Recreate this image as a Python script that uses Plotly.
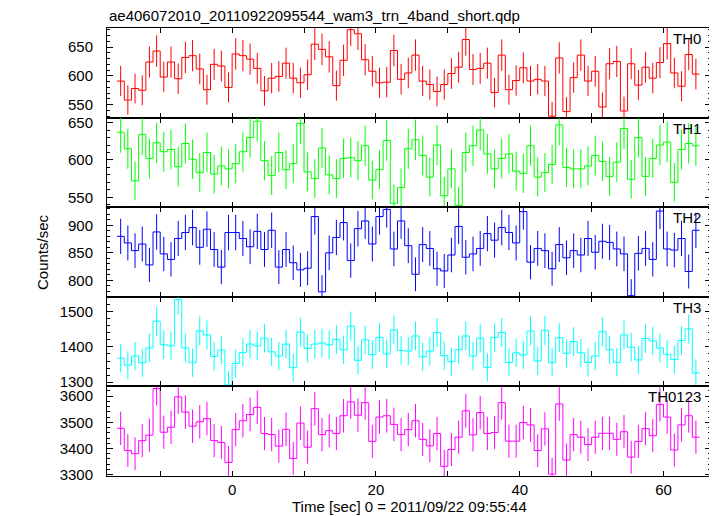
import numpy as np
import plotly.graph_objects as go
from plotly.subplots import make_subplots

# Time bins (1 s wide), bin start edges
bin_start = -16
bin_width = 1

TH0 = [591, 558, 578, 575, 624, 643, 598, 624, 595, 632, 635, 612, 576, 620, 617, 580,
       638, 635, 629, 613, 574, 596, 599, 622, 596, 588, 602, 655, 646, 633, 583, 627,
       680, 673, 628, 608, 588, 589, 644, 594, 605, 636, 591, 585, 573, 585, 604, 615,
       663, 611, 613, 622, 571, 636, 576, 592, 614, 591, 594, 591, 530, 631, 538, 597,
       636, 591, 608, 546, 621, 625, 539, 621, 584, 615, 596, 623, 656, 605, 582, 637, 603]

TH1 = [637, 615, 572, 634, 602, 623, 611, 614, 591, 622, 601, 583, 610, 581, 592, 588,
       595, 611, 630, 652, 599, 579, 610, 587, 595, 649, 584, 575, 616, 580, 575, 602,
       603, 599, 619, 573, 587, 626, 542, 563, 615, 627, 606, 577, 620, 552, 588, 539,
       610, 619, 640, 608, 588, 602, 608, 585, 582, 619, 577, 583, 594, 647, 590, 588,
       588, 592, 606, 598, 578, 597, 642, 574, 630, 578, 602, 620, 624, 570, 614, 622, 619]

TH2 = [880, 868, 854, 866, 828, 888, 848, 838, 876, 887, 896, 860, 893, 856, 824, 887,
       887, 876, 861, 889, 856, 891, 824, 856, 832, 819, 822, 916, 779, 850, 878, 905,
       836, 894, 908, 866, 916, 929, 857, 908, 863, 811, 865, 858, 821, 817, 846, 898,
       842, 848, 858, 885, 873, 896, 887, 868, 925, 833, 858, 854, 821, 865, 841, 854,
       846, 876, 851, 871, 869, 857, 848, 772, 849, 858, 838, 926, 857, 855, 876, 816, 891]

TH3 = [1368, 1348, 1374, 1355, 1397, 1473, 1406, 1403, 1534, 1397, 1355, 1445, 1434, 1373, 1391, 1292,
       1353, 1384, 1408, 1403, 1425, 1386, 1374, 1408, 1341, 1442, 1396, 1408, 1411, 1406, 1421, 1392,
       1459, 1362, 1420, 1378, 1427, 1380, 1448, 1390, 1388, 1431, 1372, 1388, 1441, 1375, 1358, 1392,
       1431, 1374, 1425, 1342, 1427, 1441, 1356, 1383, 1377, 1445, 1360, 1447, 1356, 1426, 1382, 1415,
       1383, 1356, 1374, 1443, 1392, 1356, 1434, 1399, 1363, 1424, 1417, 1397, 1379, 1364, 1418, 1451, 1326]

TH0123 = [3477, 3392, 3380, 3430, 3451, 3629, 3462, 3481, 3597, 3539, 3485, 3502, 3514, 3430, 3423, 3347,
          3472, 3506, 3530, 3557, 3457, 3453, 3409, 3473, 3362, 3497, 3405, 3552, 3453, 3468, 3457, 3525,
          3578, 3527, 3575, 3427, 3520, 3525, 3492, 3453, 3472, 3506, 3435, 3410, 3457, 3332, 3396, 3443,
          3544, 3452, 3537, 3457, 3461, 3575, 3428, 3428, 3499, 3490, 3392, 3475, 3302, 3570, 3356, 3453,
          3443, 3415, 3443, 3458, 3458, 3435, 3464, 3367, 3427, 3476, 3449, 3568, 3520, 3394, 3490, 3525, 3443]

# Poisson-like error scaling
ERR_FACTOR = 1.08

band_names = ["TH0", "TH1", "TH2", "TH3", "TH0123"]
band_values = [TH0, TH1, TH2, TH3, TH0123]
band_colors = ["#ff0000", "#00ff00", "#0000ff", "#00ffff", "#ff00ff"]
y_ranges = [[527.6, 683], [536.7, 656.7], [770, 933], [1288, 1542], [3295, 3637]]
y_dticks = [50, 50, 50, 100, 100]
y_minor = [10, 10, 10, 20, 20]
x_ticks = [0, 20, 40, 60]

title_text = "ae406072010_20110922095544_wam3_trn_4band_short.qdp"
x_title = "Time [sec] 0 = 2011/09/22 09:55:44"
y_title = "Counts/sec"

FONT = "Liberation Sans, Arial, Helvetica, sans-serif"

fig = make_subplots(rows=5, cols=1, shared_xaxes=True, vertical_spacing=0)

for i, (name, vals, col) in enumerate(zip(band_names, band_values, band_colors)):
    row = i + 1
    n = len(vals)
    edges = bin_start + bin_width * np.arange(n + 1)
    centers = bin_start + bin_width * (np.arange(n) + 0.5)
    vals_arr = np.array(vals, dtype=float)
    step_y = np.append(vals_arr, vals_arr[-1])
    fig.add_trace(go.Scatter(x=edges, y=step_y, mode="lines", line_shape="hv",
                             line=dict(color=col, width=1), showlegend=False,
                             hoverinfo="skip"), row=row, col=1)
    fig.add_trace(go.Scatter(x=centers, y=vals_arr, mode="markers",
                             marker=dict(size=0.1, color=col, opacity=0),
                             error_y=dict(type="data", array=ERR_FACTOR * np.sqrt(vals_arr),
                                          width=0, thickness=1, color=col),
                             showlegend=False), row=row, col=1)
    fig.update_yaxes(range=y_ranges[i], dtick=y_dticks[i], tick0=0,
                     ticks="inside", ticklen=6, tickwidth=1, tickcolor="black",
                     minor=dict(dtick=y_minor[i], tick0=0, ticks="inside", ticklen=3,
                                tickcolor="black", showgrid=False),
                     showline=True, linecolor="black", linewidth=1, mirror="allticks",
                     showgrid=False, zeroline=False,
                     tickfont=dict(family=FONT, size=15, color="black"),
                     ticklabelstandoff=10,
                     row=row, col=1)
    fig.update_xaxes(range=[-17.4, 66.6], tickvals=x_ticks,
                     ticks="inside", ticklen=5, tickwidth=1, tickcolor="black",
                     minor=dict(dtick=10, tick0=0, ticks="inside", ticklen=5,
                                tickcolor="black", showgrid=False),
                     showline=True, linecolor="black", linewidth=1, mirror="allticks",
                     showgrid=False, zeroline=False,
                     showticklabels=(row == 5),
                     tickfont=dict(family=FONT, size=15, color="black"),
                     row=row, col=1)
    yref = "y" if row == 1 else f"y{row}"
    xref = "x" if row == 1 else f"x{row}"
    fig.add_annotation(text=name, xref=f"{xref} domain", yref=f"{yref} domain",
                       x=0.987, y=1, xanchor="right", yanchor="top", showarrow=False,
                       font=dict(family=FONT, size=15, color="black"))

fig.add_annotation(text=title_text, xref="paper", yref="paper", x=0, y=1.029,
                   xanchor="left", yanchor="middle", showarrow=False,
                   font=dict(family=FONT, size=15, color="black"))
fig.add_annotation(text=x_title, xref="paper", yref="paper", x=0.5, y=-0.067,
                   xanchor="center", yanchor="middle", showarrow=False,
                   font=dict(family=FONT, size=15, color="black"))
fig.add_annotation(text=y_title, xref="paper", yref="paper", x=-0.1076, y=0.5,
                   xanchor="center", yanchor="middle", textangle=-90, showarrow=False,
                   font=dict(family=FONT, size=15, color="black"))

# page body adds an 8 px offset; size the figure so the plot area lands where the reference has it
fig.update_layout(width=709, height=508, margin=dict(l=99, r=6, t=20, b=40),
                  paper_bgcolor="white", plot_bgcolor="white", showlegend=False)

fig.write_html("out.html")
